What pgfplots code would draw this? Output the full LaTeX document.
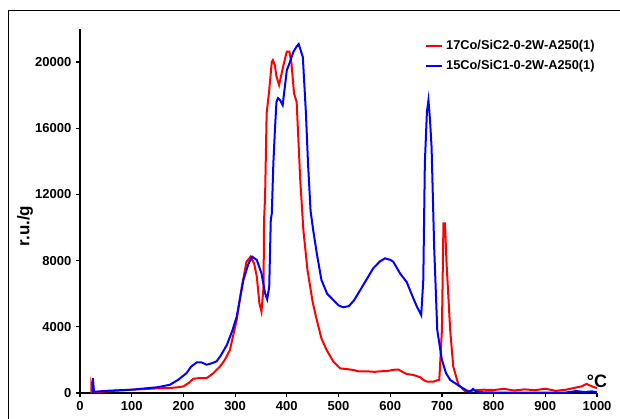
\documentclass[border=0pt]{standalone}
\usepackage{fontspec}
\setmainfont{Liberation Sans}
\usepackage{pgfplots}
\pgfplotsset{compat=1.18}
\definecolor{tprred}{RGB}{255,0,0}
\definecolor{tprblue}{RGB}{0,0,255}

\begin{document}
\begin{tikzpicture}
\begin{axis}[
  at={(0pt,0pt)}, anchor=south west,
  scale only axis, width=387.75pt, height=273pt,
  xmin=0, xmax=1000, ymin=0, ymax=22000,
  axis lines=left, axis line style={-, line width=0.9pt},
  xtick={0,100,...,1000}, ytick={0,4000,...,20000},
  scaled ticks=false,
  tick align=outside, major tick length=3pt,
  tick style={line width=0.9pt, black},
  /pgf/number format/assume math mode=true,
  /pgf/number format/set thousands separator={},
  tick label style={font=\bfseries\fontsize{9.75}{11}\selectfont},
  legend style={at={(0.66,0.985)}, anchor=north west, draw=none, fill=none,
    font=\bfseries\fontsize{9.6}{11}\selectfont, row sep=3pt},
  legend cell align=left,
  legend image code/.code={\draw[#1] (0pt,0pt) -- (12pt,0pt);},
]
\addplot[tprred, line width=1.5pt] coordinates {
(22,0) (22,500) (25,100) (30,50) (50,100) (100,200) (150,280) (174,300)
(190,350) (200,400) (210,600) (219,860) (230,900) (245,900) (258,1200)
(271,1610) (280,2000) (290,2600) (303,4410) (313,6420) (322,7930) (330,8240)
(337,7800) (342,7030) (347,5420) (351,4910) (355,6420) (356,10450) (358,11860)
(361,16900) (366,18300) (371,20020) (373,20120) (377,19800) (380,19130)
(385,18610) (393,19740) (400,20640) (405,20640) (409,19940) (414,18100)
(419,17600) (426,12890) (432,9860) (440,7430) (450,5500) (458,4410)
(467,3300) (477,2600) (490,1900) (503,1490) (515,1450) (529,1390) (540,1300)
(555,1310) (570,1280) (580,1310) (595,1330) (606,1400) (616,1420) (625,1250)
(632,1150) (645,1090) (658,950) (665,780) (671,690) (684,690) (690,760)
(695,800) (700,3810) (703,10250) (706,10250) (709,7830) (716,3810) (722,1590)
(732,500) (745,100) (760,150) (780,200) (800,180) (820,250) (840,150)
(860,220) (880,170) (900,260) (920,130) (940,200) (955,300) (970,400)
(980,550) (990,400) (1000,300)
};
\addplot[tprblue, line width=1.5pt] coordinates {
(25,0) (25,900) (27,100) (30,80) (50,130) (100,200) (150,350) (174,500)
(190,800) (206,1200) (215,1600) (226,1850) (235,1850) (245,1710) (255,1800)
(264,1910) (271,2200) (284,2900) (295,3800) (303,4600) (316,6830) (326,7830)
(333,8240) (342,8040) (351,7230) (358,6020) (362,5660) (366,6420) (369,10450)
(371,10860) (374,13880) (377,15900) (380,17600) (383,17820) (387,17700)
(392,17400) (400,19500) (406,20000) (413,20640) (419,20940) (423,21090)
(431,20300) (437,16900) (441,13900) (446,11000) (451,9850) (458,8440)
(467,6830) (478,6000) (490,5620) (500,5300) (509,5180) (520,5250) (530,5600)
(542,6220) (555,6900) (567,7530) (580,7950) (590,8140) (600,8050) (606,7930)
(619,7230) (632,6700) (645,5700) (652,5200) (660,4710) (664,6830) (667,13880)
(671,17000) (674,17700) (677,16500) (680,14880) (685,8840) (691,3810)
(700,2000) (708,1200) (716,790) (730,500) (741,280) (754,50) (760,250)
(766,100) (773,50) (800,30) (850,30) (900,20) (940,30) (960,120) (975,60)
(990,100) (1000,50)
};
\legend{17Co/SiC2-0-2W-A250(1), 15Co/SiC1-0-2W-A250(1)}
\end{axis}
\node[rotate=90, font=\bfseries\fontsize{12.75}{14}\selectfont] at (-41.25pt,125.25pt) {r.u./g};
\node[font=\bfseries\fontsize{13.5}{15}\selectfont] at (387.75pt,9pt) {°C};
\draw[line width=0.75pt] (-53.25pt,-40pt) -- (-53.25pt,286.5pt) -- (430pt,286.5pt);
\pgfresetboundingbox
\useasboundingbox (-60pt,-18.75pt) rectangle (405pt,294.75pt);
\end{tikzpicture}
\end{document}
